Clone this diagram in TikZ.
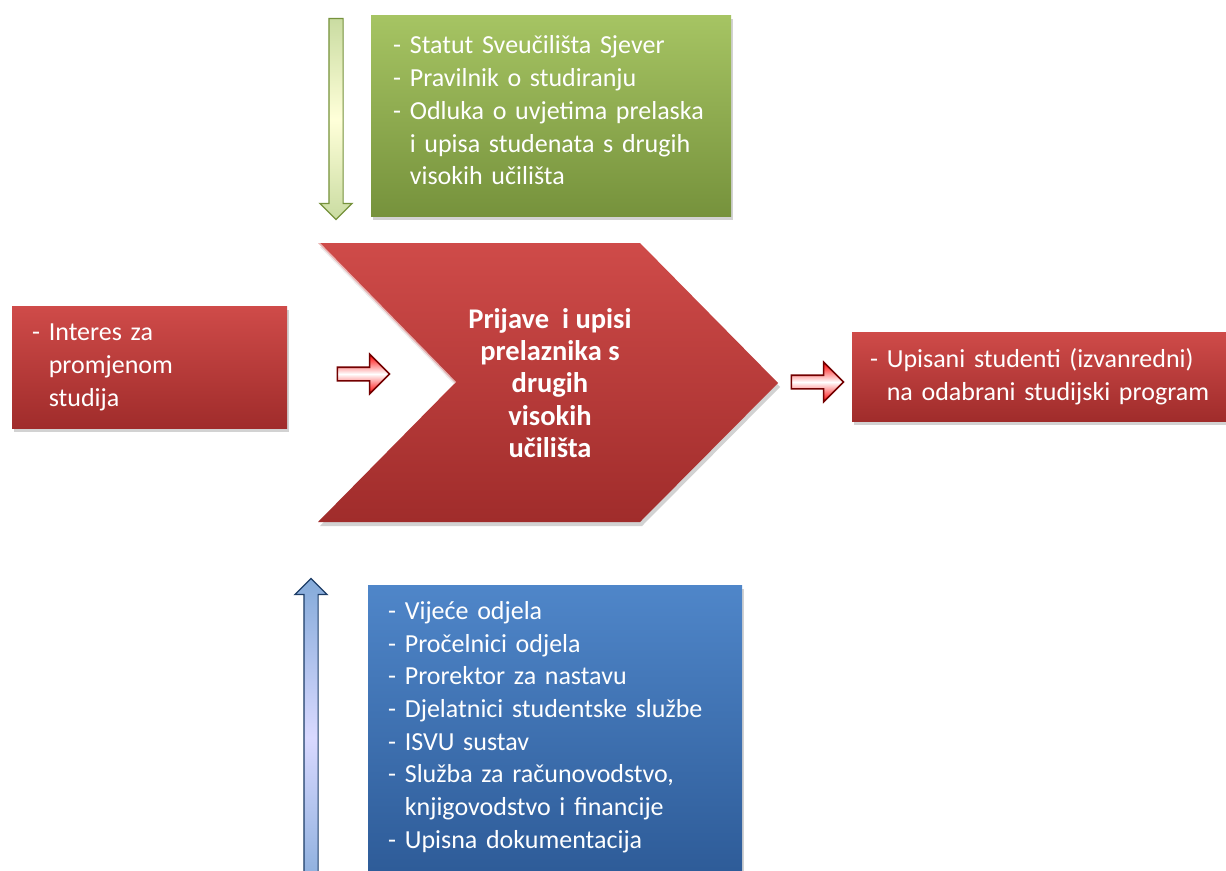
\documentclass[tikz,border=0pt]{standalone}
\usepackage{fontspec}
\setmainfont{Carlito}
\usetikzlibrary{shapes.arrows,shadows,positioning}

\definecolor{redtop}{HTML}{CF4B49}
\definecolor{redbot}{HTML}{A02C2B}
\definecolor{greentop}{HTML}{A6C463}
\definecolor{greenbot}{HTML}{76923C}
\definecolor{bluetop}{HTML}{4F86C9}
\definecolor{bluebot}{HTML}{2B5894}

\tikzset{
  softshadow/.style={drop shadow={opacity=0.35, shadow xshift=2pt, shadow yshift=-4pt}},
  infobox/.style={softshadow, anchor=north west, align=left, text=white,
    inner ysep=0pt, font=\fontsize{26}{32.7}\selectfont},
  redbox/.style={infobox, top color=redtop, bottom color=redbot},
  greenbox/.style={infobox, top color=greentop, bottom color=greenbot},
  bluebox/.style={infobox, top color=bluetop, bottom color=bluebot},
  blockarrow/.style={single arrow, inner sep=6.5pt, single arrow head indent=0pt,
    line width=1.2pt},
  redarrow/.style={blockarrow, draw=red!45!black, line width=1.6pt, top color=red, bottom color=red,
    middle color=white, inner sep=6pt, minimum height=52pt, single arrow head extend=13pt},
  greenarrow/.style={blockarrow, draw=greenbot, top color=greentop!60, bottom color=greentop!60,
    middle color=yellow!15!white, single arrow head extend=9pt, rotate=-90},
  bluearrow/.style={blockarrow, draw=bluebot!70!black, top color=bluetop!70, bottom color=bluetop!70,
    middle color=blue!15!white, single arrow head extend=9pt, rotate=90},
}

\begin{document}
\begin{tikzpicture}[x=1pt,y=-1pt]
  \clip (0,0) rectangle (1226,870);
  \fill[white] (0,0) rectangle (1226,870);
  % propisi
  \node[greenbox, text width=316pt, inner xsep=22pt, minimum height=201pt] (propisi) at (371,15)
    {- Statut Sveučilišta Sjever\\- Pravilnik o studiranju\\- Odluka o uvjetima prelaska\\
     \phantom{- }i upisa studenata s drugih\\\phantom{- }visokih učilišta\\[-22pt]~};
  \node[greenarrow, minimum height=201pt] (propisistrelica) at (336,115.5) {};
  % ulaz
  \node[redbox, text width=235pt, inner xsep=20pt, minimum height=122pt] (interes) at (12,306)
    {- Interes za\\\phantom{- }promjenom\\\phantom{- }studija};
  \node[redarrow] (ulazstrelica) at (360,374) {};
  % proces
  \coordinate (c1) at (318,243);
  \coordinate (c2) at (640,243);
  \coordinate (c3) at (778,383);
  \coordinate (c4) at (640,522);
  \coordinate (c5) at (318,522);
  \coordinate (c6) at (455,383);
  \shade[softshadow, top color=redtop, bottom color=redbot] (c1) -- (c2) -- (c3) -- (c4) -- (c5) -- (c6) -- cycle;
  \draw[white, opacity=0.6, line width=3pt] (c1) -- (c6);
  \node[align=center, text=white, font=\fontsize{28.5}{32.3}\selectfont\bfseries] (prijave) at (550,383)
    {Prijave\ \ i upisi\\prelaznika s\\drugih\\visokih\\učilišta};
  % izlaz
  \node[redarrow] (izlazstrelica) at (814,382) {};
  \node[redbox, text width=370pt, inner xsep=18pt, minimum height=89pt] (upisani) at (852,332)
    {- Upisani studenti (izvanredni)\\\phantom{- }na odabrani studijski program};
  % resursi
  \node[bluebox, text width=334pt, inner xsep=20pt, minimum height=312pt] (resursi) at (368,585)
    {- Vijeće odjela\\- Pročelnici odjela\\- Prorektor za nastavu\\- Djelatnici studentske službe\\
     - ISVU sustav\\- Služba za računovodstvo,\\\phantom{- }knjigovodstvo i financije\\
     - Upisna dokumentacija\\~};
  \node[bluearrow, minimum height=318pt] (resursistrelica) at (311,741) {};
\end{tikzpicture}
\end{document}
